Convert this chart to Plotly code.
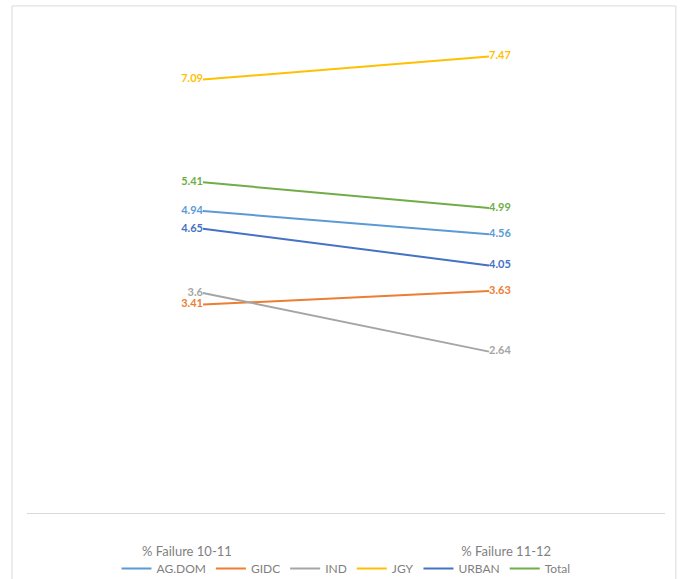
import plotly.graph_objects as go

categories = ["% Failure 10-11", "% Failure 11-12"]
series_names = ["AG.DOM", "GIDC", "IND", "JGY", "URBAN", "Total"]
ag_dom = [4.94, 4.56]
gidc = [3.41, 3.63]
ind = [3.6, 2.64]
jgy = [7.09, 7.47]
urban = [4.65, 4.05]
total = [5.41, 4.99]
colors = ["#5B9BD5", "#ED7D31", "#A5A5A5", "#FFC000", "#4472C4", "#70AD47"]

values = [ag_dom, gidc, ind, jgy, urban, total]

fig = go.Figure()
xs = [0, 1]
for name, vals, col in zip(series_names, values, colors):
    fig.add_trace(go.Scatter(
        x=xs, y=vals, name=name, mode="lines+text",
        line=dict(color=col, width=2),
        text=[f"{v:g}" if name == "IND" and v == 3.6 else f"{v:.2f}" for v in vals],
        textposition=["middle left", "middle right"],
        textfont=dict(color=col, size=11, family="Lato", weight="bold"),
        cliponaxis=False,
    ))

fig.update_layout(
    width=684, height=579,
    margin=dict(l=27, r=19, t=24, b=66, autoexpand=False),
    paper_bgcolor="white", plot_bgcolor="white",
    font=dict(family="Lato", color="#595959"),
    showlegend=True,
    legend=dict(orientation="h", x=0.5, xanchor="center", yref="container",
                y=0.018, yanchor="middle", bgcolor="rgba(0,0,0,0)",
                font=dict(size=12, color="#7F7F7F"), itemwidth=30, tracegroupgap=0),
    xaxis=dict(range=[-0.615, 1.615], showgrid=False, zeroline=False,
               showline=True, linecolor="#D9D9D9", linewidth=1, automargin=False,
               tickvals=[-0.056, 1.06], ticktext=categories, ticks="",
               tickfont=dict(size=13, color="#7F7F7F"), ticklabelstandoff=26),
    yaxis=dict(range=[0, 8], showgrid=False, zeroline=False, showline=False,
               showticklabels=False, automargin=False),
    shapes=[dict(type="rect", xref="paper", yref="paper",
                 x0=-0.0235, x1=1.017, y0=-0.16, y1=1.037,
                 line=dict(color="#D9D9D9", width=1), fillcolor="rgba(0,0,0,0)")],
)

fig.write_html("out.html")
